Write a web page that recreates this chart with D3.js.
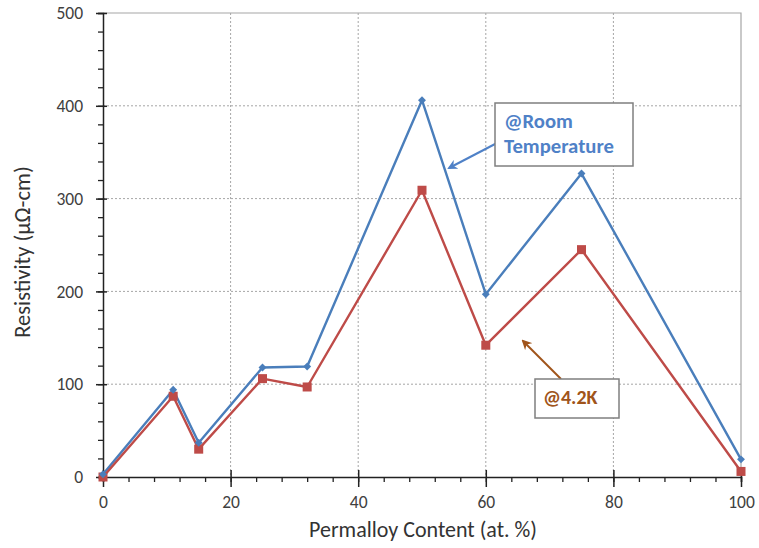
<!DOCTYPE html>
<html><head><meta charset="utf-8">
<script src="https://cdn.jsdelivr.net/npm/d3@7"></script>
<style>
body{margin:0;background:#fff;}
text{font-family:Carlito,Lato,"Open Sans",sans-serif;}
</style></head>
<body><svg id="c" width="759" height="548"></svg>
<script>
const content = [0, 11, 15, 25, 32, 50, 60, 75, 100];
const roomTemp = [3, 94, 37, 118, 119, 406, 197, 327, 19];
const lowTemp = [0, 87, 30, 106, 97, 309, 142, 245, 6];
const xTicks = [0, 20, 40, 60, 80, 100];
const yTicks = [0, 100, 200, 300, 400, 500];
const xLabel = "Permalloy Content (at. %)";
const yLabel = "Resistivity (\u03bc\u03a9-cm)";
const roomLabel = ["@Room", "Temperature"];
const lowLabel = "@4.2K";

const FONT = "Carlito,Lato,'Open Sans',sans-serif";
const svg = d3.select("#c");
const L = 103, R = 741, T = 13, B = 477;
const x = d3.scaleLinear().domain([0, 100]).range([L, R]);
const y = d3.scaleLinear().domain([0, 500]).range([B, T]);

// gridlines
const g = svg.append("g");
g.selectAll(".gx").data(xTicks.slice(1, -1)).join("line")
  .attr("x1", d => x(d)).attr("x2", d => x(d)).attr("y1", T).attr("y2", B)
  .attr("stroke", "#a6a6a6").attr("stroke-dasharray", "2,2").attr("stroke-width", 1);
g.selectAll(".gy").data(yTicks.slice(1, -1)).join("line")
  .attr("x1", L).attr("x2", R).attr("y1", d => y(d)).attr("y2", d => y(d))
  .attr("stroke", "#a6a6a6").attr("stroke-dasharray", "2,2").attr("stroke-width", 1);
svg.append("path").attr("d", `M${L},${T}H${R}V${B}`).attr("fill", "none")
  .attr("stroke", "#a6a6a6").attr("stroke-width", 1.2);

// axes
const minorX = d3.range(0, 101, 4);
const minorY = d3.range(0, 501, 20);
const ax = svg.append("g").attr("transform", `translate(0,${B})`);
ax.call(d3.axisBottom(x).tickValues(minorX).tickSize(5).tickFormat(""));
ax.selectAll("line").attr("stroke", "#222").attr("stroke-width", 1.3);
ax.select(".domain").attr("stroke", "#222").attr("stroke-width", 1.5);
const axM = svg.append("g").attr("transform", `translate(0,${B})`);
axM.call(d3.axisBottom(x).tickValues(xTicks).tickSize(10).tickPadding(9).tickFormat(d3.format("d")));
axM.select(".domain").remove();
axM.selectAll("line").attr("y1", -7).attr("stroke", "#222").attr("stroke-width", 1.5);
axM.selectAll("text").attr("font-size", 17.5).attr("fill", "#404040").attr("font-family", FONT);

const ay = svg.append("g").attr("transform", `translate(${L},0)`);
ay.call(d3.axisLeft(y).tickValues(minorY).tickSize(5).tickFormat(""));
ay.selectAll("line").attr("stroke", "#222").attr("stroke-width", 1.3);
ay.select(".domain").attr("stroke", "#222").attr("stroke-width", 1.5);
const ayM = svg.append("g").attr("transform", `translate(${L},0)`);
ayM.call(d3.axisLeft(y).tickValues(yTicks).tickSize(7).tickPadding(13).tickFormat(d3.format("d")));
ayM.select(".domain").remove();
ayM.selectAll("line").attr("x1", 4).attr("stroke", "#222").attr("stroke-width", 1.5);
ayM.selectAll("text").attr("font-size", 17.5).attr("fill", "#404040").attr("font-family", FONT);

// axis titles
svg.append("text").attr("x", 423).attr("y", 537).attr("text-anchor", "middle")
  .attr("font-size", 22).attr("fill", "#333").text(xLabel);
svg.append("text").attr("transform", `translate(30,252) rotate(-90)`).attr("text-anchor", "middle")
  .attr("font-size", 22.5).attr("fill", "#333").text(yLabel);

// series
const blue = "#4a7ebb", red = "#be4b48";
const line = d3.line().x(d => x(d[0])).y(d => y(d[1]));
const roomData = content.map((c, i) => [c, roomTemp[i]]);
const lowData = content.map((c, i) => [c, lowTemp[i]]);
svg.append("path").datum(roomData).attr("d", line).attr("fill", "none").attr("stroke", blue).attr("stroke-width", 2.4).attr("stroke-linejoin", "round");
svg.append("path").datum(lowData).attr("d", line).attr("fill", "none").attr("stroke", red).attr("stroke-width", 2.4).attr("stroke-linejoin", "round");
svg.selectAll(".sq").data(lowData).join("rect")
  .attr("x", d => x(d[0]) - 4.5).attr("y", d => y(d[1]) - 4.5).attr("width", 9).attr("height", 9).attr("fill", red);
svg.selectAll(".dm").data(roomData).join("path")
  .attr("d", d3.symbol(d3.symbolDiamond2, 40))
  .attr("transform", d => `translate(${x(d[0])},${y(d[1])})`).attr("fill", blue);

// annotations
const defs = svg.append("defs");
function marker(id, col) {
  defs.append("marker").attr("id", id).attr("viewBox", "0 0 10 10").attr("refX", 8).attr("refY", 5)
    .attr("markerWidth", 5).attr("markerHeight", 5).attr("orient", "auto")
    .append("path").attr("d", "M0,0 L10,5 L0,10 L3,5 Z").attr("fill", col);
}
const brown = "#a0541a", annBlue = "#4f81c7";
marker("mb", annBlue); marker("mr", brown);
svg.append("line").attr("x1", 497).attr("y1", 143).attr("x2", 449).attr("y2", 168)
  .attr("stroke", annBlue).attr("stroke-width", 2).attr("marker-end", "url(#mb)");
svg.append("rect").attr("x", 495).attr("y", 103).attr("width", 138).attr("height", 63)
  .attr("fill", "#fff").attr("stroke", "#7f7f7f").attr("stroke-width", 1.5);
svg.append("text").attr("x", 504).attr("y", 128).attr("font-size", 20.7).attr("font-weight", "bold").attr("fill", annBlue).text(roomLabel[0]);
svg.append("text").attr("x", 504).attr("y", 153).attr("font-size", 20.7).attr("font-weight", "bold").attr("fill", annBlue).text(roomLabel[1]);

svg.append("line").attr("x1", 561).attr("y1", 379).attr("x2", 523).attr("y2", 341)
  .attr("stroke", brown).attr("stroke-width", 2).attr("marker-end", "url(#mr)");
svg.append("rect").attr("x", 535).attr("y", 379).attr("width", 84).attr("height", 39)
  .attr("fill", "#fff").attr("stroke", "#7f7f7f").attr("stroke-width", 1.5);
svg.append("text").attr("x", 543).attr("y", 404).attr("font-size", 20).attr("font-weight", "bold").attr("fill", brown).text(lowLabel);
</script></body></html>
